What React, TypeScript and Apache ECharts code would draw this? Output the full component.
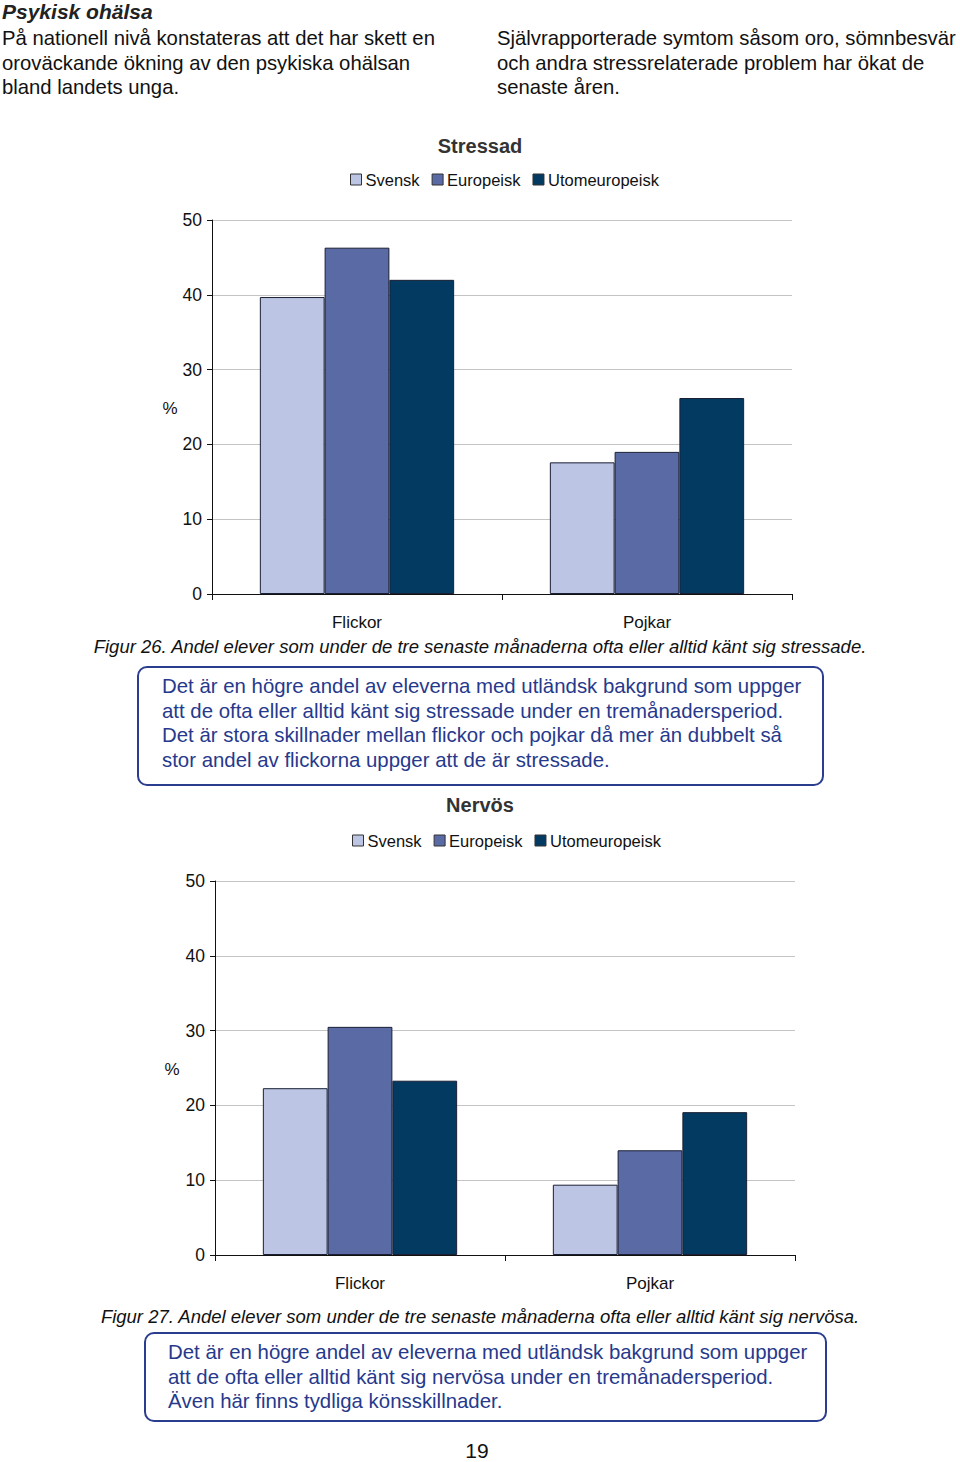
import React, { useEffect, useRef } from "react";
import * as echarts from "echarts";

const categories = ["Flickor", "Pojkar"];
const seriesNames = ["Svensk", "Europeisk", "Utomeuropeisk"];
const seriesColors = ["#BCC6E4", "#5A6AA4", "#033A62"];

const stressSvensk = [39.7, 17.6];
const stressEuropeisk = [46.3, 19.0];
const stressUtom = [42.0, 26.2];

const nervSvensk = [22.3, 9.4];
const nervEuropeisk = [30.5, 14.0];
const nervUtom = [23.3, 19.1];

const yMin = 0;
const yMax = 50;
const yInterval = 10;

const headerLeft = [
  "På nationell nivå konstateras att det har skett en",
  "oroväckande ökning av den psykiska ohälsan",
  "bland landets unga.",
];
const headerRight = [
  "Självrapporterade symtom såsom oro, sömnbesvär",
  "och andra stressrelaterade problem har ökat de",
  "senaste åren.",
];
const box1Lines = [
  "Det är en högre andel av eleverna med utländsk bakgrund som uppger",
  "att de ofta eller alltid känt sig stressade under en tremånadersperiod.",
  "Det är stora skillnader mellan flickor och pojkar då mer än dubbelt så",
  "stor andel av flickorna uppger att de är stressade.",
];
const box2Lines = [
  "Det är en högre andel av eleverna med utländsk bakgrund som uppger",
  "att de ofta eller alltid känt sig nervösa under en tremånadersperiod.",
  "Även här finns tydliga könsskillnader.",
];
const caption1 = "Figur 26. Andel elever som under de tre senaste månaderna ofta eller alltid känt sig stressade.";
const caption2 = "Figur 27. Andel elever som under de tre senaste månaderna ofta eller alltid känt sig nervösa.";

const FONT = "Liberation Sans, Arial, sans-serif";
const BLUE_TEXT = "#26398C";

function txt(text: string, x: number, y: number, opts: any = {}) {
  const va = opts.valign || "middle";
  return {
    type: "text",
    x,
    y,
    silent: true,
    style: {
      text,
      fill: opts.fill || "#111",
      fontSize: opts.fontSize || 20,
      fontFamily: FONT,
      fontWeight: opts.fontWeight || "normal",
      fontStyle: opts.fontStyle || "normal",
      textAlign: opts.align || "left",
      align: opts.align || "left",
      textVerticalAlign: va,
      verticalAlign: va,
    },
  };
}

export default function App() {
  const ref = useRef<HTMLDivElement>(null);
  useEffect(() => {
    if (!ref.current) return;
    const chart = echarts.init(ref.current, null, { renderer: "svg" });

    const grids = [
      { left: 212, top: 220, width: 580, height: 374 },
      { left: 215, top: 881, width: 580, height: 374 },
    ];

    const xAxes = grids.map((_, i) => ({
      type: "category",
      gridIndex: i,
      data: categories,
      axisLine: { show: true, lineStyle: { color: "#111", width: 1 } },
      axisTick: { show: true, alignWithLabel: false, length: 6, lineStyle: { color: "#111" } },
      axisLabel: { fontSize: 17, color: "#111", fontFamily: FONT, margin: 20 },
      splitLine: { show: false },
    }));

    const yAxes = grids.map((_, i) => ({
      type: "value",
      gridIndex: i,
      min: yMin,
      max: yMax,
      interval: yInterval,
      axisLine: { show: true, lineStyle: { color: "#111", width: 1 } },
      axisTick: { show: true, length: 5, lineStyle: { color: "#111" } },
      axisLabel: { fontSize: 17.5, color: "#111", fontFamily: FONT, margin: 10 },
      splitLine: { show: true, lineStyle: { color: "#c4c4c4", width: 1 } },
    }));

    const dataSets = [
      [stressSvensk, stressEuropeisk, stressUtom],
      [nervSvensk, nervEuropeisk, nervUtom],
    ];

    const series: any[] = [];
    dataSets.forEach((set, gi) => {
      set.forEach((vals, si) => {
        series.push({
          type: "bar",
          name: seriesNames[si],
          xAxisIndex: gi,
          yAxisIndex: gi,
          data: vals,
          barGap: "0%",
          barCategoryGap: "33%",
          itemStyle: { color: seriesColors[si], borderColor: "#1a1f33", borderWidth: 1 },
        });
      });
    });

    const legendBase = {
      data: seriesNames,
      itemWidth: 11,
      itemHeight: 11,
      itemGap: 12,
      padding: 0,
      icon: "rect",
      selectedMode: false,
      textStyle: { fontSize: 16.5, color: "#111", fontFamily: FONT, padding: [0, 0, 0, -1] },
      itemStyle: { borderColor: "#333", borderWidth: 1 },
    };

    const graphics: any[] = [];
    graphics.push(
      txt("Psykisk ohälsa", 2, 1, { fontSize: 21, fontWeight: "bold", fontStyle: "italic", fill: "#222", valign: "top" })
    );
    headerLeft.forEach((l, i) => graphics.push(txt(l, 2, 38 + i * 24.5, { fontSize: 20.3 })));
    headerRight.forEach((l, i) => graphics.push(txt(l, 497, 38 + i * 24.5, { fontSize: 20.3 })));

    graphics.push(txt("Stressad", 480, 146, { fontSize: 20, fontWeight: "bold", fill: "#333", align: "center" }));
    graphics.push(txt("%", 170, 408, { fontSize: 17, align: "center" }));
    graphics.push(txt(caption1, 480, 646, { fontSize: 18.5, fontStyle: "italic", align: "center" }));

    graphics.push({
      type: "rect",
      silent: true,
      shape: { x: 138, y: 667, width: 685, height: 118, r: 9 },
      style: { fill: "none", stroke: "#2B3D8F", lineWidth: 2 },
    });
    box1Lines.forEach((l, i) => graphics.push(txt(l, 162, 686 + i * 24.6, { fontSize: 20.4, fill: BLUE_TEXT })));

    graphics.push(txt("Nervös", 480, 805, { fontSize: 20, fontWeight: "bold", fill: "#333", align: "center" }));
    graphics.push(txt("%", 172, 1069, { fontSize: 17, align: "center" }));
    graphics.push(txt(caption2, 480, 1316, { fontSize: 18.5, fontStyle: "italic", align: "center" }));

    graphics.push({
      type: "rect",
      silent: true,
      shape: { x: 145, y: 1333, width: 681, height: 88, r: 9 },
      style: { fill: "none", stroke: "#2B3D8F", lineWidth: 2 },
    });
    box2Lines.forEach((l, i) => graphics.push(txt(l, 168, 1352 + i * 24.6, { fontSize: 20.4, fill: BLUE_TEXT })));

    graphics.push(txt("19", 477, 1450, { fontSize: 21, align: "center" }));

    chart.setOption({
      animation: false,
      backgroundColor: "#ffffff",
      grid: grids,
      xAxis: xAxes,
      yAxis: yAxes,
      legend: [
        { ...legendBase, left: 350, top: 171 },
        { ...legendBase, left: 352, top: 832 },
      ],
      series,
      graphic: graphics,
    });

    return () => chart.dispose();
  }, []);

  return (
    <div
      ref={ref}
      style={{ position: "absolute", left: 0, top: 0, width: 960, height: 1462, background: "#fff" }}
    />
  );
}
